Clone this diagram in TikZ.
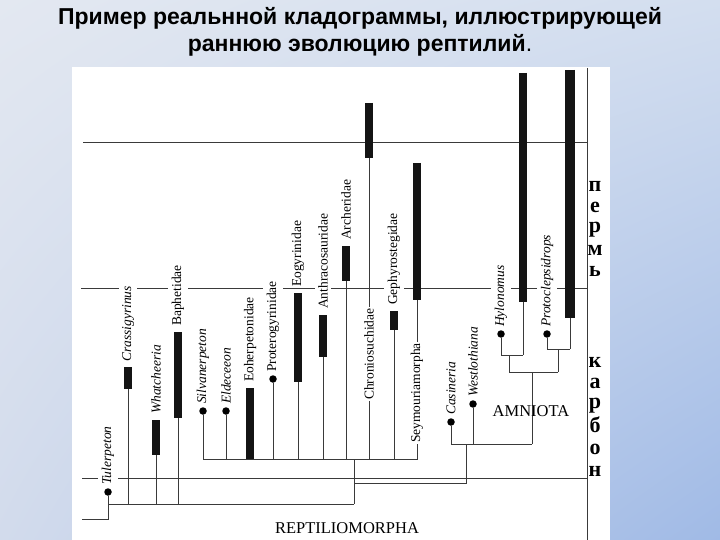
\documentclass[tikz,border=0pt]{standalone}
\usepackage{fontspec}
\usetikzlibrary{shadings}
\setmainfont{Liberation Serif}
\newfontfamily\titlefont{Liberation Sans}
\definecolor{bgA}{HTML}{E3E8F1}
\definecolor{bgB}{HTML}{D3DEEF}
\definecolor{bgC}{HTML}{D2DBEC}
\definecolor{bgD}{HTML}{A0BAE6}
\definecolor{linegray}{HTML}{3A3A3A}
\definecolor{barblack}{HTML}{141414}
\begin{document}
\begin{tikzpicture}[x=1pt,y=-1pt,
  tline/.style={draw=linegray,line width=0.9pt},
  clad/.style={draw=linegray,line width=0.9pt},
  barline/.style={draw=barblack,line width=8pt,line cap=butt},
  dot/.style={circle,fill=black,inner sep=0pt,minimum size=7.5pt},
  lab/.style={rotate=90,anchor=west,fill=white,inner xsep=1pt,inner ysep=3.5pt,
     font=\fontsize{13.5}{15}\selectfont},
  ilab/.style={lab,font=\fontsize{13.5}{15}\selectfont\itshape},
  period/.style={font=\fontsize{22}{22}\selectfont\bfseries,inner sep=0pt,anchor=base,
     text height=0.45em,text depth=0pt},
  grp/.style={font=\fontsize{16.5}{18}\selectfont,inner sep=1pt},
  ttl/.style={font=\titlefont\bfseries\fontsize{23}{26}\selectfont,anchor=base,inner sep=0pt}]
\useasboundingbox (0,0) rectangle (720,540);
\shade[upper left=bgA,upper right=bgB,lower left=bgC,lower right=bgD] (0,0) rectangle (720,540);
\fill[white] (72,67) rectangle (610,540);
% title
\node[ttl] (t1) at (360,25) {Пример реальнной кладограммы, иллюстрирующей};
\node[ttl] (t2) at (360,52) {раннюю эволюцию рептилий{\mdseries .}};
% time lines
\coordinate (h1a) at (83,142); \coordinate (h1b) at (587,142);
\coordinate (h2a) at (81,288); \coordinate (h2b) at (587,288);
\coordinate (h3a) at (82,478); \coordinate (h3b) at (587,478);
\coordinate (va) at (587,68); \coordinate (vb) at (587,540);
\draw[tline] (h1a) -- (h1b);
\draw[tline] (h2a) -- (h2b);
\draw[tline] (h3a) -- (h3b);
\draw[tline] (va) -- (vb);
% period letters
\foreach \l/\y in {п/192,е/213,р/233,м/255,ь/276,к/367,а/388,р/408,б/432,о/454,н/476}
  \node[period] at (595,\y) {\l};
% ---------- cladogram ----------
\coordinate (root) at (82,519);
\coordinate (r1) at (108,519);
\coordinate (b1) at (108,504);
\coordinate (b2) at (354,504);
\node[dot] (tul) at (108,492) {};
\draw[clad] (root) -- (r1) -- (tul);
\draw[clad] (b1) -- (b2);
% Crassigyrinus
\coordinate (crT) at (128,367); \coordinate (crB) at (128,389); \coordinate (crR) at (128,504);
\draw[clad] (crB) -- (crR); \draw[barline] (crT) -- (crB);
% Whatcheeria
\coordinate (whT) at (156,420); \coordinate (whB) at (156,455); \coordinate (whR) at (156,504);
\draw[clad] (whB) -- (whR); \draw[barline] (whT) -- (whB);
% Baphetidae
\coordinate (baT) at (178,332); \coordinate (baB) at (178,418); \coordinate (baR) at (178,504);
\draw[clad] (baB) -- (baR); \draw[barline] (baT) -- (baB);
% upper comb
\coordinate (c1) at (354,459);
\coordinate (ca) at (203,459); \coordinate (cb) at (418,459);
\draw[clad] (b2) -- (c1);
\draw[clad] (ca) -- (cb);
\node[dot] (sil) at (203,411) {}; \draw[clad] (sil) -- (ca);
\node[dot] (eld) at (226,411) {}; \coordinate (eldR) at (226,459); \draw[clad] (eld) -- (eldR);
\coordinate (eoT) at (250,388); \coordinate (eoB) at (250,459); \draw[barline] (eoT) -- (eoB);
\node[dot] (pro) at (273,379) {}; \coordinate (proR) at (273,459); \draw[clad] (pro) -- (proR);
\coordinate (egT) at (298,293); \coordinate (egB) at (298,382); \coordinate (egR) at (298,459);
\draw[clad] (egB) -- (egR); \draw[barline] (egT) -- (egB);
\coordinate (anT) at (323,315); \coordinate (anB) at (323,357); \coordinate (anR) at (323,459);
\draw[clad] (anB) -- (anR); \draw[barline] (anT) -- (anB);
\coordinate (arT) at (346,246); \coordinate (arB) at (346,281); \coordinate (arR) at (346,459);
\draw[clad] (arB) -- (arR); \draw[barline] (arT) -- (arB);
\coordinate (chT) at (369,103); \coordinate (chB) at (369,158); \coordinate (chR) at (369,459);
\draw[clad] (chB) -- (chR); \draw[barline] (chT) -- (chB);
\coordinate (geT) at (394,311); \coordinate (geB) at (394,330); \coordinate (geR) at (394,459);
\draw[clad] (geB) -- (geR); \draw[barline] (geT) -- (geB);
\coordinate (seT) at (417,163); \coordinate (seB) at (417,300); \coordinate (seR) at (417,459);
\draw[clad] (seB) -- (seR); \draw[barline] (seT) -- (seB);
% amniota branch
\coordinate (am1) at (354,483); \coordinate (am2) at (466,483); \coordinate (am3) at (466,444);
\draw[clad] (am1) -- (am2) -- (am3);
\coordinate (amL) at (451,444); \coordinate (amR) at (532,444);
\draw[clad] (amL) -- (amR);
\node[dot] (cas) at (451,422) {}; \draw[clad] (cas) -- (amL);
\node[dot] (wes) at (473,404) {}; \coordinate (wesR) at (473,444); \draw[clad] (wes) -- (wesR);
\coordinate (k1) at (532,372); \draw[clad] (amR) -- (k1);
\coordinate (kL) at (509,372); \coordinate (kR) at (558,372); \draw[clad] (kL) -- (kR);
\coordinate (hy1) at (509,355); \draw[clad] (kL) -- (hy1);
\coordinate (hyL) at (501,355); \coordinate (hyR) at (523,355); \draw[clad] (hyL) -- (hyR);
\node[dot] (hyl) at (501,334) {}; \draw[clad] (hyl) -- (hyL);
\coordinate (hyT) at (523,73); \coordinate (hyB) at (523,302);
\draw[clad] (hyB) -- (hyR); \draw[barline] (hyT) -- (hyB);
\coordinate (pr1) at (558,349); \draw[clad] (kR) -- (pr1);
\coordinate (prL) at (547,349); \coordinate (prR) at (570,349); \draw[clad] (prL) -- (prR);
\node[dot] (pcl) at (547,334) {}; \draw[clad] (pcl) -- (prL);
\coordinate (prT) at (570,70); \coordinate (prB) at (570,318);
\draw[clad] (prB) -- (prR); \draw[barline,line width=10pt] (prT) -- (prB);
% ---------- labels ----------
\node[ilab] (lTul) at (108,486) {Tulerpeton};
\node[ilab] (lCra) at (128,363) {Crassigyrinus};
\node[ilab] (lWha) at (156,415) {Whatcheeria};
\node[lab]  (lBap) at (178,327) {Baphetidae};
\node[ilab] (lSil) at (203,405) {Silvanerpeton};
\node[ilab] (lEld) at (226,405) {Eldeceeon};
\node[lab]  (lEoh) at (250,383) {Eoherpetonidae};
\node[lab]  (lPro) at (273,373) {Proterogyrinidae};
\node[lab]  (lEog) at (298,288) {Eogyrinidae};
\node[lab]  (lAnt) at (323,310) {Anthracosauridae};
\node[lab]  (lArc) at (346,241) {Archeridae};
\node[lab]  (lChr) at (369,401) {Chroniosuchidae};
\node[lab]  (lGep) at (394,306) {Gephyrostegidae};
\node[lab]  (lSey) at (417,444) {Seymouriamorpha};
\node[ilab] (lCas) at (451,416) {Casineria};
\node[ilab] (lWes) at (473,398) {Westlothiana};
\node[ilab] (lHyl) at (501,328) {Hylonomus};
\node[ilab] (lPcl) at (547,328) {Protoclepsidrops};
\node[grp] (amn) at (531,411) {AMNIOTA};
\node[grp] (rep) at (347,528) {REPTILIOMORPHA};
\end{tikzpicture}
\end{document}
